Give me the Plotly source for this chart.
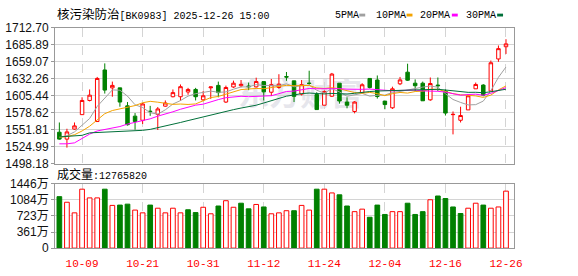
import plotly.graph_objects as go

# ---------------- data ----------------
dates = [
    "2025-09-26", "2025-09-29", "2025-09-30", "2025-10-09", "2025-10-10", "2025-10-13",
    "2025-10-14", "2025-10-15", "2025-10-16", "2025-10-17", "2025-10-20", "2025-10-21",
    "2025-10-22", "2025-10-23", "2025-10-24", "2025-10-27", "2025-10-28", "2025-10-29",
    "2025-10-30", "2025-10-31", "2025-11-03", "2025-11-04", "2025-11-05", "2025-11-06",
    "2025-11-07", "2025-11-10", "2025-11-11", "2025-11-12", "2025-11-13", "2025-11-14",
    "2025-11-17", "2025-11-18", "2025-11-19", "2025-11-20", "2025-11-21", "2025-11-24",
    "2025-11-25", "2025-11-26", "2025-11-27", "2025-11-28", "2025-12-01", "2025-12-02",
    "2025-12-03", "2025-12-04", "2025-12-05", "2025-12-08", "2025-12-09", "2025-12-10",
    "2025-12-11", "2025-12-12", "2025-12-15", "2025-12-16", "2025-12-17", "2025-12-18",
    "2025-12-19", "2025-12-22", "2025-12-23", "2025-12-24", "2025-12-25", "2025-12-26",
]

opens = [
    1547.8, 1536.9, 1552.8, 1575.6, 1598.0, 1564.7, 1646.2, 1617.9, 1617.9, 1589.5,
    1573.2, 1566.7, 1581.1, 1576.1, 1589.0, 1603.9, 1603.9, 1611.4, 1615.4, 1599.0,
    1618.0, 1621.8, 1595.5, 1619.3, 1621.3, 1620.8, 1619.5, 1627.8, 1611.0, 1618.5,
    1635.7, 1629.0, 1608.0, 1625.5, 1607.5, 1590.5, 1604.7, 1625.3, 1595.5, 1580.6,
    1610.4, 1632.8, 1630.3, 1597.0, 1586.4, 1624.3, 1642.7, 1625.3, 1625.3, 1599.0,
    1622.3, 1612.9, 1575.6, 1566.7, 1583.1, 1616.4, 1622.3, 1612.9, 1663.6, 1682.9,
]
highs = [
    1563.2, 1553.3, 1563.2, 1603.0, 1615.4, 1635.2, 1656.6, 1627.8, 1617.9, 1595.5,
    1578.1, 1594.0, 1589.5, 1587.6, 1598.0, 1615.4, 1623.3, 1617.9, 1617.9, 1612.9,
    1619.6, 1627.8, 1621.5, 1629.3, 1630.3, 1626.3, 1634.0, 1627.8, 1632.0, 1639.5,
    1643.0, 1629.0, 1630.3, 1645.0, 1611.0, 1614.0, 1641.5, 1625.3, 1603.0, 1596.8,
    1625.3, 1632.8, 1637.5, 1597.0, 1619.8, 1635.2, 1656.1, 1631.3, 1627.8, 1634.3,
    1634.3, 1615.4, 1580.6, 1588.1, 1607.9, 1626.3, 1623.8, 1661.1, 1684.9, 1694.8,
]
lows = [
    1535.9, 1523.5, 1551.8, 1575.6, 1596.5, 1564.7, 1608.9, 1603.9, 1588.1, 1558.3,
    1551.8, 1560.7, 1573.7, 1551.3, 1588.1, 1602.9, 1597.5, 1607.0, 1598.0, 1596.8,
    1600.5, 1603.0, 1594.0, 1617.9, 1618.9, 1614.4, 1618.5, 1598.0, 1605.0, 1616.5,
    1629.0, 1595.5, 1605.9, 1622.8, 1583.6, 1590.5, 1603.5, 1593.0, 1585.6, 1577.6,
    1609.4, 1616.9, 1601.0, 1584.1, 1584.6, 1622.3, 1628.8, 1612.9, 1597.5, 1597.5,
    1612.9, 1574.2, 1544.4, 1563.2, 1583.1, 1616.4, 1604.5, 1612.9, 1659.1, 1671.5,
]
closes = [
    1536.9, 1548.3, 1557.8, 1598.0, 1606.4, 1632.8, 1614.4, 1621.8, 1595.5, 1559.7,
    1564.7, 1592.5, 1580.4, 1584.6, 1594.0, 1610.4, 1619.8, 1615.4, 1603.9, 1605.4,
    1619.3, 1610.4, 1618.5, 1625.3, 1623.5, 1619.8, 1628.0, 1611.6, 1623.0, 1623.8,
    1635.0, 1604.5, 1623.0, 1624.8, 1583.6, 1612.0, 1639.7, 1597.2, 1590.5, 1595.5,
    1622.8, 1618.4, 1604.2, 1591.5, 1616.4, 1630.5, 1630.0, 1621.3, 1597.5, 1624.8,
    1621.3, 1578.1, 1576.0, 1574.2, 1605.4, 1623.3, 1606.4, 1657.6, 1679.9, 1687.4,
]

# volume in 万 (10k)
volumes = [
    1153, 1027, 790, 1320, 1125, 1125, 1320, 957, 964, 985,
    852, 790, 964, 894, 790, 894, 790, 859, 796, 915,
    769, 943, 1062, 915, 1006, 880, 978, 922, 769, 790,
    838, 838, 957, 852, 1320, 1320, 1236, 1194, 943, 817,
    873, 691, 964, 754, 817, 817, 1006, 754, 817, 1083,
    1167, 1111, 922, 775, 894, 1006, 964, 894, 922, 1276.582,
]
# 1 = close above previous close (red hollow), 0 = below (green solid)
vol_up = [
    0, 1, 1, 1, 1, 1, 0, 1, 0, 0,
    1, 1, 0, 1, 1, 1, 1, 0, 0, 1,
    1, 0, 1, 1, 0, 0, 1, 0, 1, 1,
    1, 0, 1, 1, 0, 1, 1, 0, 0, 1,
    1, 0, 0, 0, 1, 1, 0, 0, 0, 1,
    0, 0, 0, 0, 1, 1, 0, 1, 1, 1,
]

# moving-average values before the window is full
ma5_lead = [1539.9, 1542.4, 1548.3, 1558.3]
ma10_lead = [1539.9, 1540.9, 1543.9, 1549.8, 1557.3, 1567.7, 1577.1, 1582.1, 1585.1]
ma20_lead = [1529.5, 1529.5, 1531.0, 1537.4, 1544.9, 1549.8, 1551.8, 1553.8, 1556.8,
             1560.7, 1563.7, 1565.7, 1569.0, 1573.2, 1576.1, 1580.1, 1584.1, 1587.6,
             1590.6]
ma30_lead = [1540.4, 1540.9, 1541.9, 1542.9, 1546.8, 1547.3, 1547.8, 1548.0, 1548.3,
             1549.3, 1549.8, 1550.8, 1552.3, 1554.8, 1557.3, 1560.3, 1563.2, 1566.2,
             1569.2, 1572.5, 1575.0, 1578.0, 1581.0, 1583.5, 1586.0, 1588.3, 1590.5,
             1594.0, 1598.0]

price_tick_labels = ["1498.18", "1524.99", "1551.81", "1578.62", "1605.44",
                     "1632.26", "1659.07", "1685.89", "1712.70"]
vol_tick_labels = ["0", "361万", "723万", "1084万", "1446万"]
x_tick_dates = ["2025-10-09", "2025-10-21", "2025-10-31", "2025-11-12",
                "2025-11-24", "2025-12-04", "2025-12-16", "2025-12-26"]

title_name = "核污染防治"
title_code = "[BK0983] 2025-12-26 15:00"
vol_title = "成交量"
last_volume = "12765820"
ma_names = ["5PMA", "10PMA", "20PMA", "30PMA"]

# ---------------- styles ----------------
RED = "#ff0000"
GREEN = "#008000"
MA_COLORS = ["#a0a0a0", "#f4a300", "#ff00ff", "#00703a"]
GRID = "#d4d4d4"
BORDER = "#999999"
W, H = 578, 276
X0, X1 = 56, 522
MAIN_TOP, MAIN_BOT = 22, 165
VOL_TOP, VOL_BOT = 186, 254
MONO = "Liberation Mono, Noto Sans CJK SC, monospace"
SANS = "Liberation Sans, Noto Sans CJK SC, sans-serif"


def moving_average(values, n, lead):
    out = list(lead)
    for i in range(n - 1, len(values)):
        out.append(sum(values[i - n + 1:i + 1]) / n)
    return out


mas = [moving_average(closes, 5, ma5_lead), moving_average(closes, 10, ma10_lead),
       moving_average(closes, 20, ma20_lead), moving_average(closes, 30, ma30_lead)]

fig = go.Figure()

fig.add_trace(go.Candlestick(
    x=dates, open=opens, high=highs, low=lows, close=closes,
    increasing=dict(line=dict(color=RED, width=1), fillcolor="#ffffff"),
    decreasing=dict(line=dict(color=GREEN, width=1), fillcolor=GREEN),
    whiskerwidth=0, xaxis="x", yaxis="y", showlegend=False, hoverinfo="skip",
))

for name, vals, col in zip(ma_names, mas, MA_COLORS):
    fig.add_trace(go.Scatter(x=dates, y=vals, mode="lines", name=name,
                             line=dict(color=col, width=1), xaxis="x", yaxis="y",
                             showlegend=False, hoverinfo="skip"))

fig.add_trace(go.Bar(
    x=dates, y=volumes, xaxis="x2", yaxis="y2", width=0.62,
    marker=dict(color=["#ffffff" if u else GREEN for u in vol_up],
                line=dict(color=[RED if u else GREEN for u in vol_up], width=1)),
    showlegend=False, hoverinfo="skip",
))

n = len(dates)
dx = (X1 - X0) / 60.6
xr = [-(60.3 - X0) / 7.69, (n - 1) + (X1 - 514.0) / 7.69]

common_x = dict(type="category", categoryorder="array", categoryarray=dates,
                range=xr, showgrid=True, gridcolor=GRID, griddash="dash", gridwidth=1,
                tickvals=x_tick_dates, showline=True, linecolor=BORDER, mirror=True,
                zeroline=False, domain=[X0 / W, X1 / W], fixedrange=True)

fig.update_layout(
    width=W, height=H, margin=dict(l=0, r=0, t=0, b=0),
    paper_bgcolor="#ffffff", plot_bgcolor="#ffffff",
    boxgap=0.34, bargap=0.3, showlegend=False, hovermode=False,
    xaxis=dict(**common_x, anchor="y", showticklabels=False, ticks="",
               rangeslider=dict(visible=False)),
    xaxis2=dict(**common_x, anchor="y2", showticklabels=True,
                ticktext=[d[5:] for d in x_tick_dates],
                ticks="outside", ticklen=5, tickcolor="rgba(0,0,0,0)",
                tickfont=dict(family=MONO, size=11, color=RED)),
    yaxis=dict(domain=[1 - MAIN_BOT / H, 1 - MAIN_TOP / H], anchor="x",
               range=[float(price_tick_labels[0]), float(price_tick_labels[-1])],
               tickvals=[float(t) for t in price_tick_labels], ticktext=price_tick_labels,
               showgrid=True, gridcolor=GRID, zeroline=False, showline=True,
               linecolor=BORDER, mirror=True, ticks="outside", ticklen=3,
               tickcolor=BORDER, tickfont=dict(family=SANS, size=12, color="#111111"),
               fixedrange=True),
    yaxis2=dict(domain=[1 - VOL_BOT / H, 1 - VOL_TOP / H], anchor="x2",
                range=[0, float(vol_tick_labels[-1].replace("万", ""))],
                tickvals=[float(t.replace("万", "")) for t in vol_tick_labels],
                ticktext=vol_tick_labels,
                showgrid=True, gridcolor=GRID, zeroline=False, showline=True,
                linecolor=BORDER, mirror=True, ticks="outside", ticklen=3,
                tickcolor=BORDER, tickfont=dict(family=SANS, size=12, color="#111111"),
                fixedrange=True),
)

annotations = [
    dict(x=56 / W, y=1 - 8.5 / H, xref="paper", yref="paper", xanchor="left",
         yanchor="middle", showarrow=False,
         text=f"<span style='font-size:12.5px'>{title_name}</span>{title_code}",
         font=dict(family=MONO, size=10, color="#000000")),
    dict(x=56 / W, y=1 - 177 / H, xref="paper", yref="paper", xanchor="left",
         yanchor="middle", showarrow=False,
         text=f"<span style='font-size:12px'>{vol_title}</span>:{last_volume}",
         font=dict(family=MONO, size=10, color="#000000")),
]
legend_text_x = [338, 380, 425, 471]
swatch_x = [365, 413, 459, 505]
shapes = []
for name, col, tx, sx in zip(ma_names, MA_COLORS, legend_text_x, swatch_x):
    annotations.append(dict(x=tx / W, y=1 - 8.5 / H, xref="paper", yref="paper",
                            xanchor="left", yanchor="middle", showarrow=False, text=name,
                            font=dict(family=MONO, size=10, color="#000000")))
    shapes.append(dict(type="rect", xref="paper", yref="paper",
                       x0=sx / W, x1=(sx + 6) / W, y0=1 - 10 / H, y1=1 - 7 / H,
                       fillcolor=col, line=dict(width=0)))

# faint watermark behind the candles
shapes.append(dict(type="rect", xref="paper", yref="paper", layer="below",
                   x0=230 / W, x1=380 / W, y0=1 - 110 / H, y1=1 - 78 / H,
                   line=dict(width=0), fillcolor="rgba(0,0,0,0)",
                   label=dict(text="东方财富", textposition="middle center",
                              font=dict(family="Noto Sans CJK SC", size=31,
                                        color="#e6e6ec", weight="bold"))))

fig.update_layout(annotations=annotations, shapes=shapes)

fig.write_html("out.html")
